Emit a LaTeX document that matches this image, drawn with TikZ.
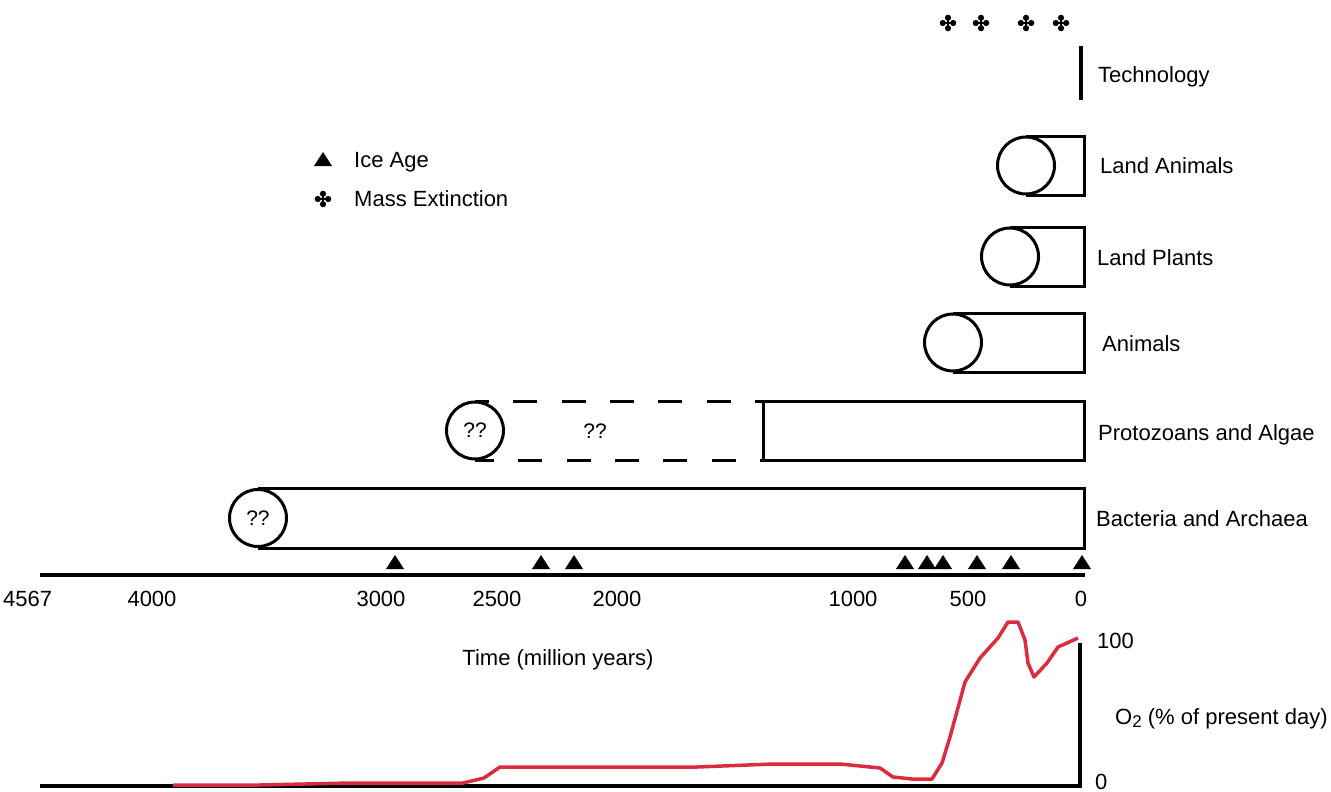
\documentclass[tikz,border=0pt]{standalone}
\usepackage{fontspec}
\setmainfont{Liberation Sans}
\definecolor{oxred}{RGB}{218,44,62}
\tikzset{
  bar/.style={line width=3pt, line join=miter},
  dbar/.style={line width=3pt, dash pattern=on 24pt off 24.3pt},
  bub/.style={circle, draw, line width=3pt, minimum size=57pt, inner sep=0pt, fill=white, font=\fontsize{21}{24}\selectfont},
  lab/.style={anchor=base west, inner sep=0pt, font=\fontsize{22}{26}\selectfont},
  num/.style={anchor=base, inner sep=0pt, font=\fontsize{22}{26}\selectfont},
  axisline/.style={line width=4pt, line join=miter},
  icetri/.pic={\fill (-9,7) -- (9,7) -- (0,-7) -- cycle;},
  extsym/.pic={
    \fill (0,-5.2) circle[radius=3.1pt] (0,5.2) circle[radius=3.1pt]
          (-5.2,0) circle[radius=3.1pt] (5.2,0) circle[radius=3.1pt];
    \draw[line width=1.6pt] (-4,0) -- (4,0) (0,-4) -- (0,4);
  }
}
\begin{document}
\begin{tikzpicture}[x=1pt,y=-1pt]
\useasboundingbox (0,0) rectangle (1331,792);

% mass extinctions
\foreach \x in {948,981,1026,1061} \pic at (\x,23) {extsym};

% technology
\draw[line width=3.5pt] (1081,46) -- (1081,100);
\node[lab] (tech) at (1098,83) {Technology};

% land animals
\draw[bar] (1026,136) -- (1084,136) -- (1084,195) -- (1026,195);
\node[bub] (labub) at (1026,165.5) {};
\node[lab] (latxt) at (1100,173) {Land Animals};

% land plants
\draw[bar] (1010,227) -- (1084,227) -- (1084,286) -- (1010,286);
\node[bub] (lpbub) at (1010,256.5) {};
\node[lab] (lptxt) at (1097,265) {Land Plants};

% animals
\draw[bar] (953,313) -- (1084,313) -- (1084,372) -- (953,372);
\node[bub] (anbub) at (953,342.5) {};
\node[lab] (antxt) at (1102,351) {Animals};

% protozoans and algae
\draw[bar] (763,401) rectangle (1084,460);
\draw[dbar, dash phase=10pt] (475,401) -- (763,401);
\draw[dbar, dash phase=5pt] (475,460) -- (763,460);
\node[bub] (prbub) at (475,430.5) {??};
\node[inner sep=0pt, font=\fontsize{21}{24}\selectfont] (prq) at (595,431) {??};
\node[lab] (prtxt) at (1098,440) {Protozoans and Algae};

% bacteria and archaea
\draw[bar] (258,488) -- (1084,488) -- (1084,548) -- (258,548);
\node[bub] (babub) at (258,518) {??};
\node[lab] (batxt) at (1096,526) {Bacteria and Archaea};

% legend
\pic at (323,159) {icetri};
\node[lab] (legice) at (354,167) {Ice Age};
\pic at (323,199) {extsym};
\node[lab] (legext) at (354,206) {Mass Extinction};

% ice ages
\foreach \x in {395,541,574,905,927,943,977,1011,1082} \pic at (\x,562) {icetri};

% time axis
\draw[axisline] (40,575) -- (1085,575);
\node[lab] (t4567) at (3,606) {4567};
\node[num] (t4000) at (152,606) {4000};
\node[num] (t3000) at (381,606) {3000};
\node[num] (t2500) at (497,606) {2500};
\node[num] (t2000) at (617,606) {2000};
\node[num] (t1000) at (853,606) {1000};
\node[num] (t500) at (968,606) {500};
\node[num] (t0) at (1081,606) {0};
\node[num] (tlab) at (558,665) {Time (million years)};

% oxygen plot
\draw[axisline] (40,786) -- (1080,786) -- (1080,643);
\node[lab] (o100) at (1097,648) {100};
\node[lab] (o0) at (1095,789.5) {0};
\node[lab] (o2lab) at (1115,724) {O\raisebox{-0.3ex}{\fontsize{17}{20}\selectfont 2} (\% of present day)};
\draw[oxred, line width=3.5pt, line join=round] plot coordinates {
 (173,785) (260,785) (350,783) (463,783) (484,778) (500,767) (697,767)
 (773,764) (840,764) (880,768) (893,777) (912,779) (932,779) (942,763)
 (950,737) (965,682) (980,658) (998,638) (1008,622) (1018,622) (1025,640)
 (1028,663) (1034,677) (1047,663) (1058,647) (1078,638)};
\end{tikzpicture}
\end{document}
